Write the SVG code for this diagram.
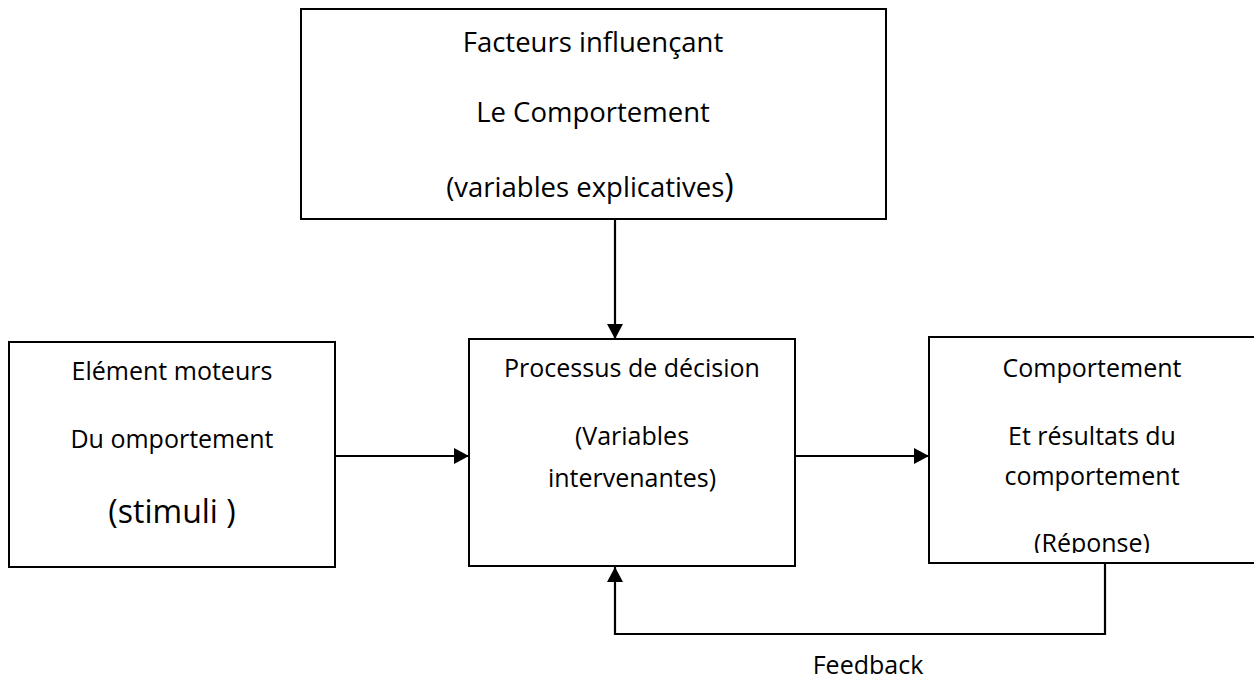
<svg xmlns="http://www.w3.org/2000/svg" width="1254" height="679" viewBox="0 0 1254 679">
<style>
.box{fill:#fff;stroke:#000;stroke-width:2}
.t{font-family:"Open Sans","Liberation Sans",sans-serif;font-size:25px;fill:#000;text-anchor:middle}
.tb{font-size:27.5px}
.big{font-size:32px}
.conn{fill:none;stroke:#000;stroke-width:2.2}
</style>
<defs>
<marker id="ah" markerWidth="16" markerHeight="16" viewBox="0 0 16 16" refX="15" refY="8" orient="auto" markerUnits="userSpaceOnUse">
<path d="M0,0 L15,8 L0,16 Z" fill="#000"/>
</marker>
<clipPath id="clipR"><rect x="929" y="337" width="330" height="216"/></clipPath>
</defs>
<g id="node-facteurs">
<rect class="box" x="301" y="9" width="585" height="210"/>
<text class="t tb" x="593" y="52">Facteurs influençant</text>
<text class="t tb" x="593" y="122">Le Comportement</text>
<text class="t tb" x="590" y="197">(variables explicatives<tspan class="big">)</tspan></text>
</g>
<g id="node-stimuli">
<rect class="box" x="9" y="342" width="326" height="225"/>
<text class="t" x="172" y="380">Elément moteurs</text>
<text class="t" x="172" y="448">Du omportement</text>
<text class="t big" x="172" y="523">(stimuli )</text>
</g>
<g id="node-processus">
<rect class="box" x="469" y="339" width="326" height="227"/>
<text class="t" x="632" y="377">Processus de décision</text>
<text class="t" x="632" y="445">(Variables</text>
<text class="t" x="632" y="487">intervenantes)</text>
</g>
<g id="node-comportement">
<rect class="box" x="929" y="337" width="328" height="226"/>
<text class="t" x="1092" y="377">Comportement</text>
<text class="t" x="1092" y="445">Et résultats du</text>
<text class="t" x="1092" y="485">comportement</text>
<text class="t" x="1092" y="552" clip-path="url(#clipR)">(Réponse)</text>
</g>
<g id="connectors">
<line class="conn" x1="615" y1="219" x2="615" y2="339" marker-end="url(#ah)"/>
<line class="conn" x1="335" y1="456" x2="469" y2="456" marker-end="url(#ah)"/>
<line class="conn" x1="795" y1="456" x2="929" y2="456" marker-end="url(#ah)"/>
<polyline class="conn" points="1105,563 1105,634 615,634 615,567" marker-end="url(#ah)"/>
<text class="t" x="868" y="674">Feedback</text>
</g>
</svg>
